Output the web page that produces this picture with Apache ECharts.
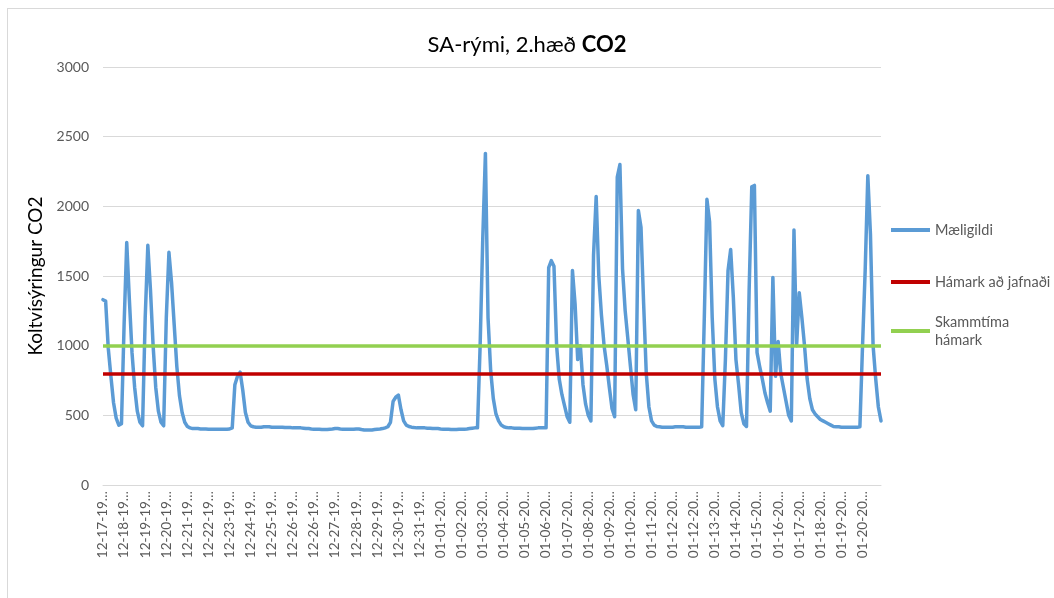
<!DOCTYPE html>
<html>
<head>
<meta charset="utf-8">
<script src="https://cdn.jsdelivr.net/npm/echarts@6/dist/echarts.min.js"></script>
<style>
html, body { margin: 0; padding: 0; background: #fff; }
#frame { position: absolute; left: 7px; top: 8px; width: 1060px; height: 600px; border-left: 1px solid #d9d9d9; border-top: 1px solid #d9d9d9; }
#chart { position: absolute; left: 0; top: 0; width: 1054px; height: 598px; }
</style>
</head>
<body>
<div id="frame"></div>
<div id="chart"></div>
<script>
// tick labels on the x axis, one every 8 readings
var tickLabels = ['12-17-19', '12-18-19', '12-19-19', '12-20-19', '12-21-19', '12-22-19', '12-23-19', '12-24-19',
    '12-25-19', '12-26-19', '12-26-19', '12-27-19', '12-28-19', '12-29-19', '12-30-19', '12-31-19',
    '01-01-20', '01-02-20', '01-03-20', '01-04-20', '01-05-20', '01-06-20', '01-07-20', '01-08-20',
    '01-09-20', '01-10-20', '01-11-20', '01-12-20', '01-12-20', '01-13-20', '01-14-20', '01-15-20',
    '01-16-20', '01-17-20', '01-18-20', '01-19-20', '01-20-20'];
var perTick = 8;

// CO2 readings (ppm)
var maeligildi = [
    1330, 1320, 980, 780, 590, 480, 430, 440,
    1150, 1740, 1330, 950, 700, 530, 450, 425,
    1200, 1720, 1400, 1000, 700, 530, 450, 425,
    1200, 1670, 1450, 1150, 850, 640, 520, 450,
    420, 410, 405, 405, 405, 402, 402, 402,
    400, 400, 400, 400, 400, 400, 400, 400,
    402, 410, 720, 780, 810, 680, 520, 450,
    425, 418, 415, 415, 415, 418, 418, 418,
    415, 415, 415, 415, 415, 412, 412, 412,
    410, 410, 410, 410, 408, 405, 405, 402,
    400, 400, 400, 398, 398, 398, 400, 402,
    405, 405, 402, 400, 400, 400, 400, 400,
    402, 402, 398, 395, 395, 395, 395, 398,
    400, 402, 405, 410, 418, 450, 600, 630,
    645, 540, 460, 430, 420, 415, 412, 410,
    410, 410, 410, 408, 408, 405, 405, 405,
    402, 400, 400, 400, 398, 398, 398, 400,
    400, 400, 402, 405, 408, 410, 410, 1000,
    1770, 2380, 1200, 820, 620, 510, 460, 430,
    418, 412, 410, 410, 408, 408, 408, 405,
    405, 405, 405, 405, 408, 410, 410, 410,
    410, 1560, 1610, 1570, 1000, 760, 650, 570,
    490, 450, 1540, 1300, 900, 1000, 720, 580,
    500, 460, 1650, 2070, 1500, 1220, 1000, 860,
    700, 550, 490, 2210, 2300, 1550, 1250, 1050,
    850, 650, 540, 1970, 1850, 1300, 800, 560,
    460, 430, 420, 418, 415, 415, 415, 415,
    415, 418, 418, 418, 418, 415, 415, 415,
    415, 415, 415, 418, 1200, 2050, 1890, 1200,
    760, 560, 460, 425, 900, 1540, 1690, 1350,
    900, 720, 520, 440, 420, 1400, 2140, 2150,
    950, 850, 760, 660, 590, 530, 1490, 780,
    1030, 800, 700, 600, 500, 460, 1830, 1000,
    1380, 1200, 1000, 760, 620, 540, 510, 490,
    470, 460, 450, 440, 430, 420, 418, 418,
    415, 415, 415, 415, 415, 415, 415, 418,
    1000, 1540, 2220, 1800, 1000, 760, 560, 460
];

var hamarkJafnadi = 800;
var skammtimaHamark = 1000;

var yTicks = { min: 0, max: 3000, interval: 500 };

var cats = maeligildi.map(function (v, i) { return String(i); });

var chart = echarts.init(document.getElementById('chart'));
var font = 'Lato, "Open Sans", sans-serif';
var legendText = { color: '#595959', fontSize: 14.5, fontFamily: font, lineHeight: 18 };

var option = {
    animation: false,
    title: {
        text: '{n|SA-rými, 2.hæð }{b|CO2}',
        left: 'center',
        top: 29,
        textStyle: {
            fontWeight: 'normal',
            rich: {
                n: { fontSize: 22, color: '#000', fontWeight: 'normal', fontFamily: font },
                b: { fontSize: 22, color: '#000', fontWeight: 'bold', fontFamily: font }
            }
        }
    },
    legend: [
        { orient: 'vertical', left: 891, top: 221, padding: 0, icon: 'rect', itemWidth: 39, itemHeight: 4,
          data: ['Mæligildi'], textStyle: legendText },
        { orient: 'vertical', left: 891, top: 273, padding: 0, icon: 'rect', itemWidth: 39, itemHeight: 4,
          data: ['Hámark að jafnaði'], textStyle: legendText },
        { orient: 'vertical', left: 891, top: 313, padding: 0, icon: 'rect', itemWidth: 39, itemHeight: 4,
          data: ['Skammtíma hámark'], textStyle: legendText,
          formatter: function () { return 'Skammtíma\nhámark'; } }
    ],
    grid: { left: 103, right: 173, top: 67, bottom: 113 },
    xAxis: {
        type: 'category',
        data: cats,
        boundaryGap: false,
        axisLine: { lineStyle: { color: '#d9d9d9', width: 1 } },
        axisTick: { show: false },
        axisLabel: {
            interval: perTick - 1,
            rotate: 90,
            margin: 6,
            color: '#595959',
            fontSize: 13.5,
            fontFamily: font,
            formatter: function (v, idx) {
                return idx % perTick === 0 ? tickLabels[idx / perTick] + '…' : '';
            }
        }
    },
    yAxis: {
        type: 'value',
        min: yTicks.min,
        max: yTicks.max,
        interval: yTicks.interval,
        name: 'Koltvísýringur CO2',
        nameLocation: 'middle',
        nameRotate: 90,
        nameGap: 58,
        nameTextStyle: { color: '#000', fontSize: 19, fontFamily: font },
        axisLine: { show: false },
        axisTick: { show: false },
        axisLabel: {
            color: '#595959', fontSize: 14, fontFamily: font, margin: 14,
            formatter: function (v) { return String(v); }
        },
        splitLine: { lineStyle: { color: '#d9d9d9', width: 1 } }
    },
    series: [
        {
            name: 'Mæligildi',
            type: 'line',
            data: maeligildi,
            symbol: 'none',
            color: '#5B9BD5',
            lineStyle: { color: '#5B9BD5', width: 3.5, join: 'round', cap: 'round' }
        },
        {
            name: 'Hámark að jafnaði',
            type: 'line',
            data: [],
            color: '#C00000',
            markLine: {
                silent: true,
                symbol: 'none',
                label: { show: false },
                lineStyle: { color: '#C00000', width: 3.5, type: 'solid' },
                data: [{ yAxis: hamarkJafnadi }]
            }
        },
        {
            name: 'Skammtíma hámark',
            type: 'line',
            data: [],
            color: '#92D050',
            markLine: {
                silent: true,
                symbol: 'none',
                label: { show: false },
                lineStyle: { color: '#92D050', width: 3.5, type: 'solid' },
                data: [{ yAxis: skammtimaHamark }]
            }
        }
    ]
};

chart.setOption(option);
</script>
</body>
</html>
